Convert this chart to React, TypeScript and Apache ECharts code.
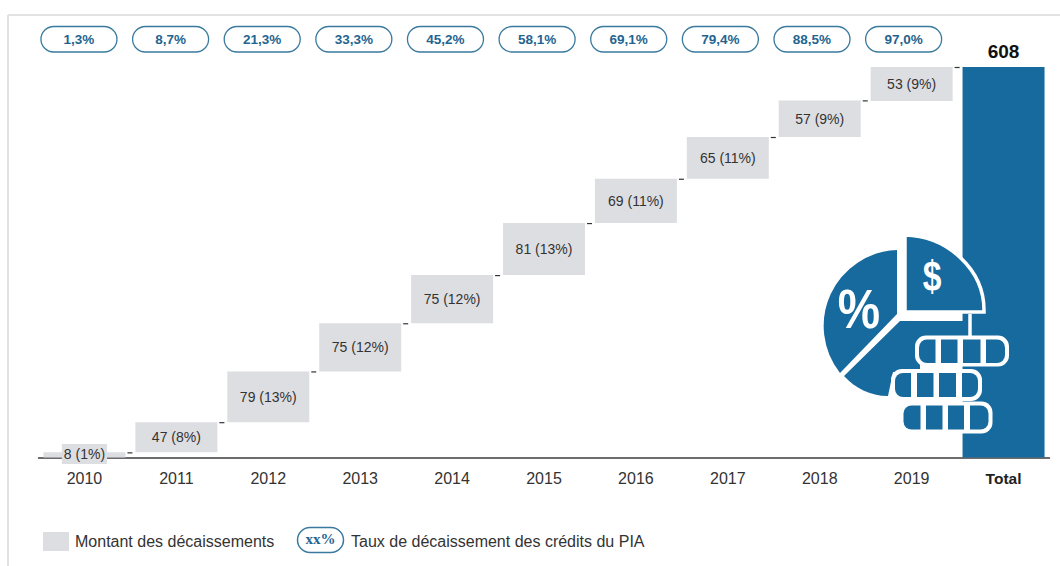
import React, { useEffect, useRef } from "react";
import * as echarts from "echarts";

const categories = ["2010", "2011", "2012", "2013", "2014", "2015", "2016", "2017", "2018", "2019", "Total"];
const amounts = [8, 47, 79, 75, 75, 81, 69, 65, 57, 53];
const shares = ["1%", "8%", "13%", "12%", "12%", "13%", "11%", "11%", "9%", "9%"];
const total = 608;
const rates = ["1,3%", "8,7%", "21,3%", "33,3%", "45,2%", "58,1%", "69,1%", "79,4%", "88,5%", "97,0%"];

const BLUE = "#176a9e";
const GREY = "#dddee2";
const FONT = "'Liberation Sans', Arial, sans-serif";
const PILL_TEXT = "#1f6590";
const PILL_BORDER = "#3a7a9f";

// running level reached by each year, capped at the stated total
const levels: number[] = [];
amounts.forEach((v, i) => levels.push(Math.min(total, (i ? levels[i - 1] : 0) + v)));
const bases = amounts.map((v, i) => levels[i] - v);

echarts.graphic.registerShape("iconDollar", echarts.graphic.extendPath("M905 235 C948 236 984 270 984 310 L984 312 L905 312 Z", {}));
echarts.graphic.registerShape("iconLeft", echarts.graphic.extendPath("M897 250 A76 76 0 0 0 840 373 L897 314 Z", {}));
echarts.graphic.registerShape("iconLower", echarts.graphic.extendPath("M844 376 L900 321 L966 321 L966 340 L920 340 L920 372 L893 372 L888 396 C870 396 855 388 844 376 Z", {}));

function coinRow(ox: number, ow: number, oy: number, oh: number, segs: number[][], sy: number, sh: number) {
  return [
    { type: "rect", z: 20, shape: { x: ox, y: oy, width: ow, height: oh, r: 11 }, style: { fill: "#fff" } },
    ...segs.map(([a, b], i) => ({
      type: "rect",
      z: 21,
      shape: { x: a, y: sy, width: b - a, height: sh, r: i === 0 ? [8, 0, 0, 8] : i === segs.length - 1 ? [0, 8, 8, 0] : 0 },
      style: { fill: BLUE },
    })),
  ];
}

const iconElements = [
  { type: "iconLeft", z: 20, style: { fill: BLUE } },
  { type: "iconLower", z: 20, style: { fill: BLUE } },
  { type: "iconDollar", z: 20, style: { fill: BLUE, stroke: "#fff", lineWidth: 3.5 } },
  { type: "line", z: 21, shape: { x1: 970, y1: 314, x2: 970, y2: 338 }, style: { stroke: "#fff", lineWidth: 3.5 } },
  ...coinRow(915, 94, 335.5, 31, [[919, 935.5], [941, 957.5], [963, 980.5], [986, 1005]], 339.5, 23.5),
  ...coinRow(891, 91, 369, 32, [[895, 911], [917, 933.5], [939, 956], [962, 978]], 373, 24),
  ...coinRow(899.5, 93, 401.5, 32, [[903.5, 920.5], [926, 942.5], [948, 964], [970, 988.5]], 405.5, 24),
  { type: "text", z: 22, x: 932, y: 277, scaleX: 0.8, style: { text: "$", fill: "#fff", font: `bold 42px ${FONT}`, textAlign: "center", textVerticalAlign: "middle" } },
  { type: "text", z: 22, x: 859, y: 309, scaleX: 0.85, style: { text: "%", fill: "#fff", font: `bold 56px ${FONT}`, textAlign: "center", textVerticalAlign: "middle" } },
];

const frameElements = [
  { type: "line", shape: { x1: 8, y1: 15, x2: 1060, y2: 15 }, style: { stroke: "#e2e2e2", lineWidth: 2 } },
  { type: "line", shape: { x1: 8, y1: 15, x2: 8, y2: 566 }, style: { stroke: "#e2e2e2", lineWidth: 2 } },
];

const legendElements = [
  { type: "rect", shape: { x: 43, y: 532, width: 26, height: 19 }, style: { fill: GREY } },
  { type: "text", x: 75, y: 541, style: { text: "Montant des décaissements", fill: "#333", font: `16px ${FONT}`, textVerticalAlign: "middle" } },
  { type: "rect", shape: { x: 297.5, y: 527.5, width: 46, height: 25, r: 12.5 }, style: { fill: "#fff", stroke: PILL_BORDER, lineWidth: 1.5 } },
  { type: "text", x: 320.5, y: 539, style: { text: "xx%", fill: PILL_TEXT, font: `bold 15px 'Liberation Serif', serif`, textAlign: "center", textVerticalAlign: "middle" } },
  { type: "text", x: 351, y: 541, style: { text: "Taux de décaissement des crédits du PIA", fill: "#333", font: `16px ${FONT}`, textVerticalAlign: "middle" } },
];

export default function App() {
  const ref = useRef<HTMLDivElement>(null);
  useEffect(() => {
    document.body.style.margin = "0";
    const chart = echarts.init(ref.current!, undefined, { renderer: "svg" });
    chart.setOption({
      animation: false,
      backgroundColor: "#fff",
      grid: { left: 38.5, right: 10.5, top: 67, bottom: 108.5 },
      xAxis: {
        type: "category",
        data: categories,
        axisTick: { show: false },
        axisLine: { lineStyle: { color: "#3c3c3c", width: 1.5 } },
        axisLabel: {
          margin: 13,
          color: "#333",
          fontFamily: FONT,
          fontSize: 16,
          formatter: (v: string) => (v === "Total" ? `{b|${v}}` : v),
          rich: { b: { fontWeight: "bold", fontSize: 15.5, fontFamily: FONT, color: "#222" } },
        },
      },
      yAxis: { type: "value", min: 0, max: total, show: false },
      series: [
        {
          type: "bar",
          stack: "w",
          barWidth: 82,
          silent: true,
          itemStyle: { color: "transparent" },
          data: [...bases, 0],
        },
        {
          type: "bar",
          stack: "w",
          barWidth: 82,
          z: 3,
          itemStyle: { color: GREY },
          label: {
            show: true,
            position: "inside",
            color: "#333",
            fontFamily: FONT,
            fontSize: 14,
            formatter: (p: any) => (p.dataIndex < amounts.length ? `${amounts[p.dataIndex]} (${shares[p.dataIndex]})` : ""),
          },
          data: [
            ...amounts.map((v, i) =>
              i === 0
                ? {
                    value: v,
                    label: {
                      show: true,
                      position: "inside",
                      backgroundColor: GREY,
                      padding: [3, 2, 3, 2],
                      offset: [0, -1],
                    },
                  }
                : v,
            ),
            {
              value: total,
              itemStyle: { color: BLUE },
              label: {
                show: true,
                position: "top",
                distance: 6,
                color: "#111",
                fontWeight: "bold",
                fontSize: 19,
                fontFamily: FONT,
                formatter: () => String(total),
              },
            },
          ],
        },
        {
          type: "custom",
          silent: true,
          z: 4,
          data: levels.map((l, i) => [i, l]),
          renderItem: (_: any, api: any) => {
            const [x, y] = api.coord([api.value(0), api.value(1)]);
            return {
              type: "line",
              shape: { x1: x + 43, y1: y + 0.5, x2: x + 48, y2: y + 0.5 },
              style: { stroke: "#333", lineWidth: 1.2 },
            };
          },
        },
        {
          type: "custom",
          silent: true,
          z: 5,
          clip: false,
          data: rates.map((r, i) => [i, r]),
          encode: { x: 0 },
          renderItem: (params: any, api: any) => {
            const [cx] = api.coord([api.value(0), 0]);
            const c = cx - 5.5 - params.dataIndex * 0.28;
            return {
              type: "group",
              children: [
                {
                  type: "rect",
                  shape: { x: c - 38, y: 26.5, width: 76, height: 25.5, r: 12.75 },
                  style: { fill: "#fff", stroke: PILL_BORDER, lineWidth: 1.3 },
                },
                {
                  type: "text",
                  x: c,
                  y: 39,
                  style: {
                    text: rates[params.dataIndex],
                    fill: PILL_TEXT,
                    font: `bold 13.5px ${FONT}`,
                    textAlign: "center",
                    textVerticalAlign: "middle",
                  },
                },
              ],
            };
          },
        },
      ],
      graphic: [...frameElements, ...legendElements, ...iconElements],
    });
    return () => chart.dispose();
  }, []);
  return <div ref={ref} style={{ width: 1060, height: 566 }} />;
}
